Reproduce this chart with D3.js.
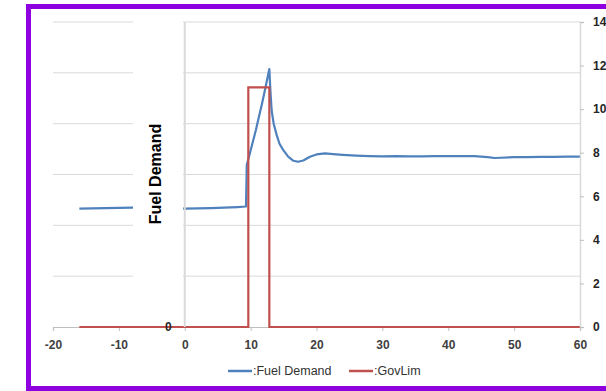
<!DOCTYPE html>
<html>
<head>
<meta charset="utf-8">
<script src="https://cdn.jsdelivr.net/npm/d3@7"></script>
<style>
  html, body { margin: 0; padding: 0; background: #fff; }
  svg { display: block; font-family: 'Liberation Sans', Arial, sans-serif; }
</style>
</head>
<body>
<div id="chart"></div>
<script>
// time axis ticks
const xTicks = [-20, -10, 0, 10, 20, 30, 40, 50, 60];
const leftTicks = [0, 2, 4, 6, 8, 10, 12];
const rightTicks = [0, 2, 4, 6, 8, 10, 12, 14];

// :Fuel Demand (left axis)
const fuelTime = [
  -16, -14, -12, -10, -8, -6, -4, -2, 0, 2, 4, 6, 8, 9.3, 9.41,
  9.8, 10.3, 10.8, 11.2, 11.7, 12.2, 12.84, 13.0, 13.2, 13.5, 13.96,
  14.4, 14.96, 15.7, 16.5, 17.2, 18, 19, 20, 21.3, 22.5, 24, 26, 28,
  30, 32, 34, 36, 38, 40, 42, 44, 46, 47, 48, 50, 52, 54, 56, 58, 60,
];
const fuelValue = [
  4.66, 4.67, 4.68, 4.69, 4.7, 4.7, 4.69, 4.68, 4.66, 4.67, 4.68, 4.7, 4.72, 4.74, 6.37,
  6.75, 7.25, 7.75, 8.2, 8.75, 9.35, 10.15, 9.3, 8.5, 8.0, 7.55,
  7.2, 6.96, 6.7, 6.54, 6.5, 6.55, 6.7, 6.79, 6.83, 6.8, 6.77, 6.74, 6.72,
  6.71, 6.72, 6.71, 6.71, 6.72, 6.72, 6.72, 6.72, 6.68, 6.65, 6.66, 6.68, 6.68, 6.69, 6.69, 6.7, 6.7,
];

// :GovLim (right axis)
const govTime = [-16, 9.65, 9.65, 12.84, 12.84, 60];
const govValue = [0, 0, 11, 11, 0, 0];

const legendNames = [':Fuel Demand', ':GovLim'];
const legendColors = ['#4f81bd', '#c0504d'];

const width = 606;
const height = 391;

const x = d3.scaleLinear().domain([-20, 60]).range([53, 580]);
const yLeft = d3.scaleLinear().domain([0, 12]).range([327, 22]);
const yRight = d3.scaleLinear().domain([0, 14]).range([327, 22]);

const svg = d3
  .select('#chart')
  .append('svg')
  .attr('width', width)
  .attr('height', height)
  .attr('viewBox', [0, 0, width, height]);

// horizontal gridlines
svg
  .append('g')
  .selectAll('line')
  .data(leftTicks.slice(1))
  .join('line')
  .attr('x1', x(-20))
  .attr('x2', x(60))
  .attr('y1', (d) => yLeft(d))
  .attr('y2', (d) => yLeft(d))
  .attr('stroke', '#d9d9d9')
  .attr('stroke-width', 1);

// x axis
const xAxis = svg
  .append('g')
  .attr('transform', `translate(0,${yLeft(0)})`)
  .call(d3.axisBottom(x).tickValues(xTicks).tickSize(4).tickPadding(9).tickFormat((d) => String(d)));
xAxis.select('.domain').attr('stroke', '#bfbfbf').attr('stroke-width', 1.2);
xAxis.selectAll('.tick line').attr('stroke', '#bfbfbf');
xAxis
  .selectAll('.tick text')
  .attr('fill', '#404040')
  .attr('font-size', 12)
  .attr('font-weight', 'bold')
  .attr('font-family', 'Liberation Sans, Arial, sans-serif');

// lines
const fuelLine = d3
  .line()
  .x((d, i) => x(fuelTime[i]))
  .y((d) => yLeft(d));

svg
  .append('path')
  .attr('d', fuelLine(fuelValue))
  .attr('fill', 'none')
  .attr('stroke', legendColors[0])
  .attr('stroke-width', 2.2)
  .attr('stroke-linejoin', 'round');

const govLine = d3
  .line()
  .x((d, i) => x(govTime[i]))
  .y((d) => yRight(d));

svg
  .append('path')
  .attr('d', govLine(govValue))
  .attr('fill', 'none')
  .attr('stroke', legendColors[1])
  .attr('stroke-width', 2.2);

// white box behind the left axis title
svg
  .append('rect')
  .attr('x', 133)
  .attr('y', 12)
  .attr('width', 50)
  .attr('height', 292)
  .attr('fill', '#fff');

// plot area left border and right axis line
svg
  .append('line')
  .attr('x1', x(0))
  .attr('x2', x(0))
  .attr('y1', yLeft(12))
  .attr('y2', yLeft(0))
  .attr('stroke', '#d9d9d9')
  .attr('stroke-width', 2);

const rAxis = svg
  .append('g')
  .attr('transform', `translate(${x(60)},0)`)
  .call(d3.axisRight(yRight).tickValues(rightTicks).tickSize(4).tickPadding(9).tickFormat((d) => String(d)));
rAxis.select('.domain').attr('stroke', '#d9d9d9').attr('stroke-width', 1.5);
rAxis.selectAll('.tick line').attr('stroke', '#bfbfbf');
rAxis
  .selectAll('.tick text')
  .attr('fill', '#262626')
  .attr('font-size', 12)
  .attr('font-weight', 'bold')
  .attr('font-family', 'Liberation Sans, Arial, sans-serif');

// left axis: only zero label shows
svg
  .append('text')
  .attr('x', x(-2.5))
  .attr('y', yLeft(0))
  .attr('dy', '0.35em')
  .attr('text-anchor', 'middle')
  .attr('font-size', 12)
  .attr('font-weight', 'bold')
  .attr('fill', '#262626')
  .text(leftTicks[0]);

// axis title
svg
  .append('text')
  .attr('transform', `translate(161,174) rotate(-90)`)
  .attr('text-anchor', 'middle')
  .attr('font-size', 16)
  .attr('font-weight', 'bold')
  .attr('fill', '#000')
  .text('Fuel Demand');

// legend
const legend = svg
  .append('g')
  .selectAll('g')
  .data(legendNames)
  .join('g')
  .attr('transform', (d, i) => `translate(${[228, 349][i]},371)`);

legend
  .append('line')
  .attr('x1', 0)
  .attr('x2', 24)
  .attr('stroke', (d, i) => legendColors[i])
  .attr('stroke-width', 2.5);

legend
  .append('text')
  .attr('x', 25)
  .attr('dy', '0.35em')
  .attr('font-size', 12.5)
  .attr('fill', '#333')
  .text((d) => d);

// outer frame
svg
  .append('rect')
  .attr('x', 28.5)
  .attr('y', 6.5)
  .attr('width', 600)
  .attr('height', 382)
  .attr('fill', 'none')
  .attr('stroke', '#8e00e0')
  .attr('stroke-width', 5);
</script>
</body>
</html>
